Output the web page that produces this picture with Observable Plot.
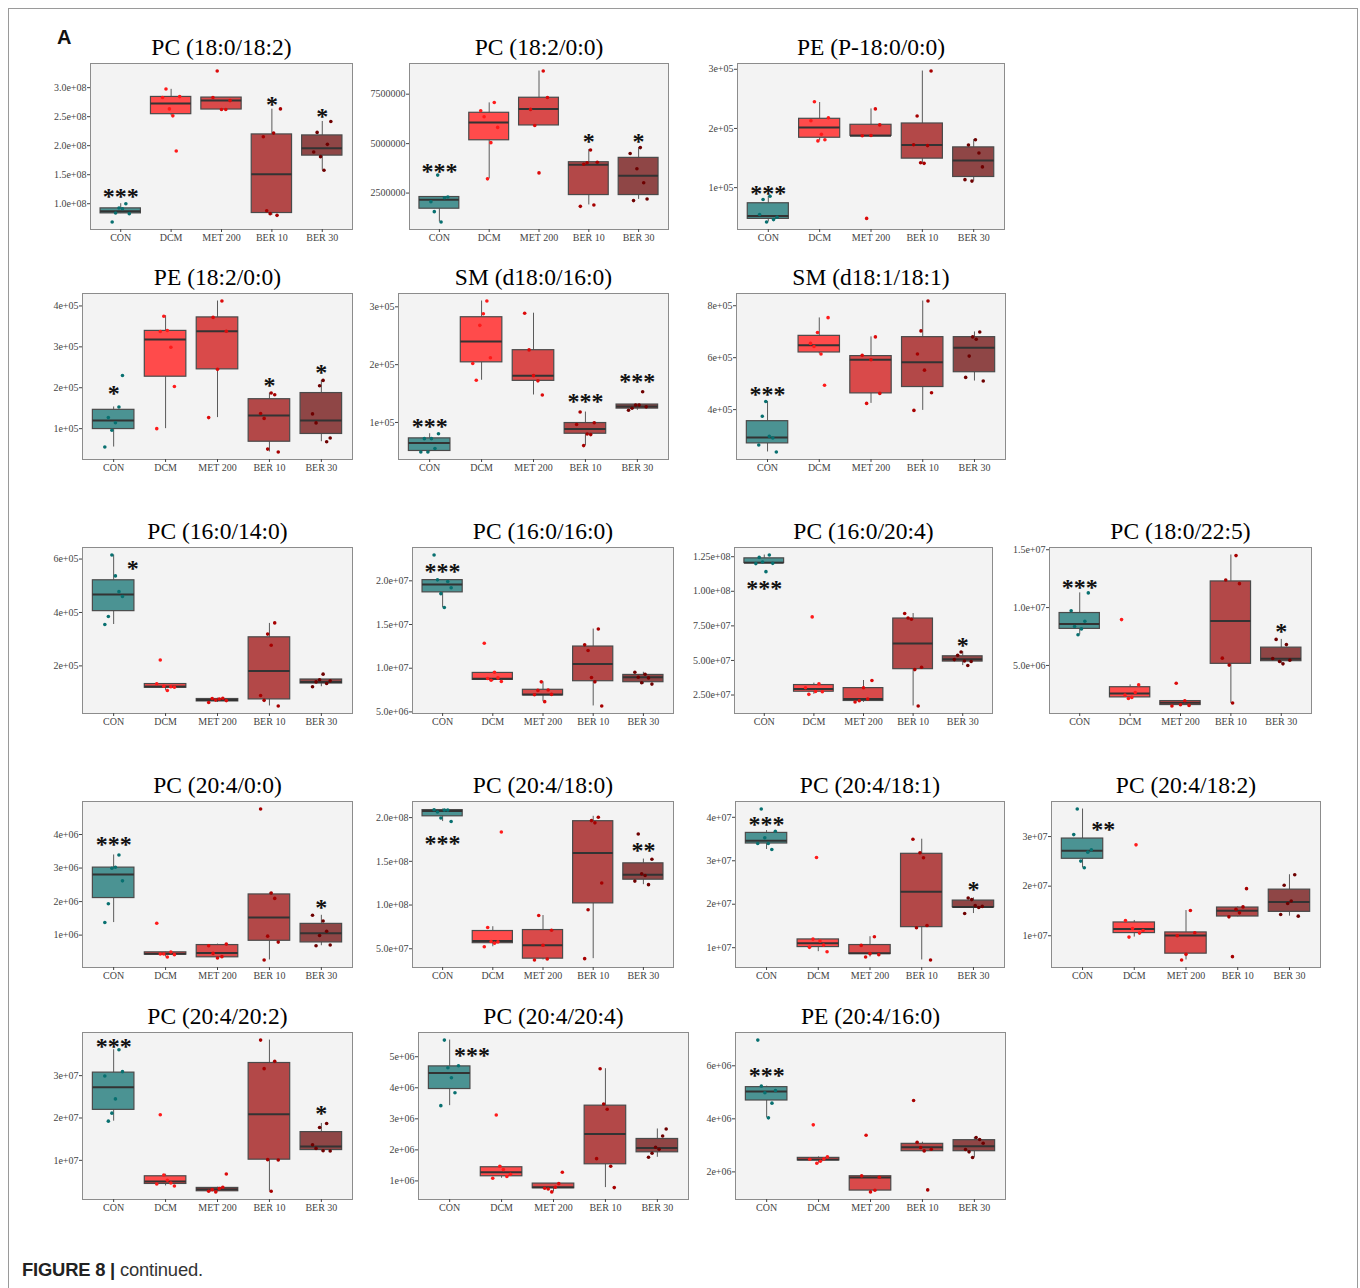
<!DOCTYPE html>
<html><head><meta charset="utf-8">
<script src="https://cdn.jsdelivr.net/npm/d3@7"></script>
<script src="https://cdn.jsdelivr.net/npm/@observablehq/plot@0.6"></script>
<style>
html,body{margin:0;padding:0;background:#fff;}
#fig{position:relative;width:1360px;height:1288px;overflow:hidden;background:#fff;}
#border{position:absolute;left:8px;top:8px;width:1348px;height:1300px;border:1px solid #9a9a9a;border-bottom:none;}
#lab{position:absolute;left:57px;top:27px;font:bold 20px "Liberation Sans",Arial,sans-serif;line-height:1;color:#111;}
#cap{position:absolute;left:22px;top:1261px;font:18.4px "Liberation Sans",Arial,sans-serif;line-height:1;color:#333;letter-spacing:-0.2px;}
#cap b{color:#222;}
</style></head>
<body><div id="fig"><div id="border"></div><div id="lab">A</div><div id="cap"><b>FIGURE 8 |</b> continued.</div></div>
<script>
const groups = ["CON","DCM","MET 200","BER 10","BER 30"];
const titles = ["PC (18:0/18:2)","PC (18:2/0:0)","PE (P-18:0/0:0)","PE (18:2/0:0)","SM (d18:0/16:0)","SM (d18:1/18:1)",
  "PC (16:0/14:0)","PC (16:0/16:0)","PC (16:0/20:4)","PC (18:0/22:5)","PC (20:4/0:0)","PC (20:4/18:0)","PC (20:4/18:1)",
  "PC (20:4/18:2)","PC (20:4/20:2)","PC (20:4/20:4)","PE (20:4/16:0)"];

// box stats per group: [lower whisker, q1, median, q3, upper whisker] (in tick-label units)
// P1 PC (18:0/18:2) x1e8
const boxP1 = [[0.83,0.834,0.869,0.92,1.0],[2.514,2.543,2.726,2.84,2.971],[2.623,2.623,2.777,2.829,2.83],[0.8,0.84,1.509,2.194,2.629],[1.577,1.829,1.954,2.177,2.417]];
const ptsP1 = [[0.686,0.84,0.926,0.914,1.0,0.829],[2.829,2.977,2.634,2.514,1.909,2.846],[2.829,3.286,2.623,2.623,2.777],[2.154,0.88,0.829,2.217,0.8,2.634],[1.891,2.229,1.811,1.577,2.023,2.417]];
const tickP1 = [1.0,1.5,2.0,2.5,3.0], tickLabP1 = ["1.0e+08","1.5e+08","2.0e+08","2.5e+08","3.0e+08"];
const sigP1 = [["CON","***",1.19,0],["BER 10","*",2.78,0],["BER 30","*",2.57,0]];
// P2 PC (18:2/0:0) x1e6
const boxP2 = [[1.04,1.71,2.165,2.30,2.30],[3.22,5.17,6.07,6.56,7.06],[5.92,5.92,6.75,7.32,8.67],[1.90,2.40,3.93,4.06,4.70],[2.18,2.40,3.37,4.28,4.80]];
const ptsP2 = [[2.06,1.56,3.41,1.04,2.26,2.30],[6.66,6.36,3.22,5.05,7.08,5.82],[6.73,5.92,3.52,8.67,7.33],[1.83,3.96,4.03,4.68,1.90,4.06],[4.50,2.12,3.73,4.80,3.02,2.20]];
const tickP2 = [2.5,5.0,7.5], tickLabP2 = ["2500000","5000000","7500000"];
const sigP2 = [["CON","***",3.79,0],["BER 10","*",5.32,0],["BER 30","*",5.32,0]];
// P3 PE (P-18:0/0:0) x1e5
const boxP3 = [[0.42,0.472,0.522,0.736,0.854],[1.79,1.843,2.017,2.163,2.438],[1.876,1.876,1.876,2.062,2.33],[1.41,1.49,1.72,2.084,2.97],[1.11,1.18,1.46,1.68,1.81]];
const ptsP3 = [[0.545,0.80,0.42,0.854,0.46,0.50],[2.13,2.45,1.79,1.90,1.81,2.18],[1.876,0.48,1.88,2.33,2.06],[1.725,2.21,1.42,1.41,1.71,2.97],[1.135,1.72,1.11,1.81,1.585,1.35]];
const tickP3 = [1,2,3], tickLabP3 = ["1e+05","2e+05","3e+05"];
const sigP3 = [["CON","***",0.98,0]];
// P4 PE (18:2/0:0) x1e5
const boxP4 = [[0.55,0.99,1.20,1.46,1.53],[1.0,2.27,3.18,3.39,3.76],[1.27,2.45,3.38,3.72,4.12],[0.43,0.68,1.32,1.72,1.87],[0.68,0.87,1.20,1.87,2.18]];
const ptsP4 = [[0.55,1.27,0.96,1.145,1.53,2.30],[1.0,3.375,3.75,3.40,2.99,2.03],[1.27,3.72,2.45,4.12,3.38],[1.37,1.25,0.50,1.87,1.83,0.43],[1.36,1.14,2.05,2.18,0.68,0.77]];
const tickP4 = [1,2,3,4], tickLabP4 = ["1e+05","2e+05","3e+05","4e+05"];
const sigP4 = [["CON","*",1.95,0],["BER 10","*",2.15,0],["BER 30","*",2.48,0]];
// P5 SM (d18:0/16:0) x1e5
const boxP5 = [[0.49,0.507,0.645,0.725,0.805],[1.73,2.04,2.40,2.82,3.10],[1.475,1.72,1.81,2.25,2.89],[0.60,0.805,0.885,0.99,1.18],[1.21,1.24,1.275,1.31,1.31]];
const ptsP5 = [[0.49,0.72,0.49,0.72,0.55,0.805],[2.02,1.73,2.68,2.88,3.10,2.12],[2.89,2.255,1.81,1.72,1.475],[0.965,1.18,0.60,0.80,0.79,0.995],[1.21,1.245,1.30,1.30,1.53,1.27]];
const tickP5 = [1,2,3], tickLabP5 = ["1e+05","2e+05","3e+05"];
const sigP5 = [["CON","***",1.0,0],["BER 10","***",1.43,0],["BER 30","***",1.78,0]];
// P6 SM (d18:1/18:1) x1e5
const boxP6 = [[2.37,2.70,2.93,3.555,4.31],[6.14,6.20,6.48,6.84,7.53],[4.24,4.625,5.92,6.06,6.80],[3.97,4.87,5.82,6.79,8.18],[5.10,5.44,6.38,6.79,6.99]];
const ptsP6 = [[2.64,3.745,4.31,2.97,2.905,2.37],[6.55,6.43,6.97,6.14,4.94,7.54],[6.09,4.24,5.92,6.80,4.625],[3.97,6.14,7.03,5.52,8.18,4.65],[5.24,6.06,6.80,6.71,6.99,5.10]];
const tickP6 = [4,6,8], tickLabP6 = ["4e+05","6e+05","8e+05"];
const sigP6 = [["CON","***",4.75,0]];
// P7 PC (16:0/14:0) x1e5
const boxP7 = [[3.55,4.05,4.67,5.205,6.15],[1.08,1.18,1.23,1.32,1.33],[0.63,0.67,0.72,0.76,0.79],[0.50,0.745,1.81,3.07,3.59],[1.22,1.34,1.40,1.49,1.49]];
const ptsP7 = [[3.55,3.85,6.15,5.37,4.78,4.60],[1.33,2.22,1.24,1.08,1.22,1.20],[0.63,0.78,0.72,0.76,0.79,0.70],[0.89,0.71,3.19,2.77,3.61,0.50],[1.22,1.40,1.48,1.69,1.34,1.44]];
const tickP7 = [2,4,6], tickLabP7 = ["2e+05","4e+05","6e+05"];
const sigP7 = [["CON","*",5.81,0.37]];
// P8 PC (16:0/16:0) x1e7
const boxP8 = [[1.694,1.868,1.958,2.008,2.011],[0.848,0.867,0.878,0.946,0.953],[0.617,0.689,0.70,0.753,0.844],[0.568,0.851,1.048,1.248,1.448],[0.818,0.84,0.897,0.923,0.953]];
const ptsP8 = [[2.295,2.011,1.853,1.694,1.992,1.92],[1.286,0.882,0.863,0.953,0.889,0.848],[0.697,0.746,0.844,0.617,0.75,0.70],[1.267,1.203,0.893,0.844,1.448,0.568],[0.953,0.897,0.833,0.931,0.889,0.818]];
const tickP8 = [0.5,1.0,1.5,2.0], tickLabP8 = ["5.0e+06","1.0e+07","1.5e+07","2.0e+07"];
const sigP8 = [["CON","***",2.155,0]];
// P9 PC (16:0/20:4) x1e8
const boxP9 = [[1.202,1.2045,1.207,1.238,1.262],[0.255,0.274,0.293,0.322,0.336],[0.197,0.207,0.221,0.30,0.355],[0.171,0.437,0.623,0.803,0.839],[0.463,0.492,0.508,0.53,0.563]];
const ptsP9 = [[1.20,1.245,1.212,1.142,1.262,1.202],[0.303,0.255,0.815,0.276,0.331,0.274],[0.20,0.209,0.303,0.221,0.355],[0.839,0.807,0.798,0.434,0.171,0.451],[0.506,0.537,0.561,0.496,0.463,0.492]];
const tickP9 = [0.25,0.5,0.75,1.0,1.25], tickLabP9 = ["2.50e+07","5.00e+07","7.50e+07","1.00e+08","1.25e+08"];
const sigP9 = [["CON","***",1.05,0],["BER 30","*",0.64,0]];
// P10 PC (18:0/22:5) x1e7
const boxP10 = [[0.765,0.816,0.859,0.953,1.127],[0.215,0.224,0.258,0.312,0.332],[0.15,0.158,0.178,0.192,0.195],[0.172,0.514,0.885,1.226,1.454],[0.514,0.537,0.557,0.654,0.725]];
const ptsP10 = [[0.973,0.836,0.765,0.816,0.882,1.127],[0.896,0.244,0.215,0.224,0.266,0.332],[0.15,0.346,0.161,0.195,0.155],[0.563,1.238,0.503,0.175,1.449,1.207],[0.560,0.725,0.534,0.514,0.68,0.546]];
const tickP10 = [0.5,1.0,1.5], tickLabP10 = ["5.0e+06","1.0e+07","1.5e+07"];
const sigP10 = [["CON","***",1.21,0],["BER 30","*",0.83,0]];
// P11 PC (20:4/0:0) x1e6
const boxP11 = [[1.374,2.105,2.806,3.013,3.39],[0.347,0.417,0.446,0.486,0.495],[0.318,0.338,0.466,0.703,0.732],[0.259,0.831,1.522,2.213,2.253],[0.683,0.782,1.058,1.335,1.591]];
const ptsP11 = [[1.374,1.937,2.993,3.023,3.39,2.618],[1.355,0.436,0.436,0.347,0.495,0.417],[0.683,0.456,0.318,0.357,0.732],[4.76,0.259,0.969,2.253,2.095,0.792],[1.591,0.683,0.989,1.423,1.117,0.703]];
const tickP11 = [1,2,3,4], tickLabP11 = ["1e+06","2e+06","3e+06","4e+06"];
const sigP11 = [["CON","***",3.82,0],["BER 30","*",1.947,0]];
// P12 PC (20:4/18:0) x1e8
const boxP12 = [[1.955,2.015,2.075,2.086,2.098],[0.523,0.564,0.59,0.703,0.752],[0.372,0.387,0.541,0.714,0.88],[0.387,1.019,1.594,1.959,2.015],[1.233,1.29,1.346,1.477,1.526]];
const ptsP12 = [[2.09,2.064,1.996,2.086,2.086,1.955],[0.523,0.744,0.583,0.564,0.579,1.835],[0.372,0.88,0.541,0.383,0.711],[0.387,0.947,1.966,1.94,2.004,1.252],[1.274,1.812,1.357,1.338,1.233,1.523]];
const tickP12 = [0.5,1.0,1.5,2.0], tickLabP12 = ["5.0e+07","1.0e+08","1.5e+08","2.0e+08"];
const sigP12 = [["CON","***",1.75,0],["BER 30","**",1.677,0]];
// P13 PC (20:4/18:1) x1e7
const boxP13 = [[3.26,3.397,3.458,3.641,3.695],[0.908,1.015,1.10,1.19,1.198],[0.786,0.855,0.87,1.061,1.252],[0.718,1.473,2.29,3.16,3.496],[1.786,1.931,1.939,2.084,2.145]];
const ptsP13 = [[3.397,4.19,3.527,3.397,3.26,3.68],[1.008,1.198,3.076,1.153,1.06,0.908],[1.053,0.786,0.863,1.252,0.84],[3.496,1.458,3.183,3.069,1.511,0.718],[1.786,2.145,2.107,1.969,1.924,1.95]];
const tickP13 = [1,2,3,4], tickLabP13 = ["1e+07","2e+07","3e+07","4e+07"];
const sigP13 = [["CON","***",3.92,0],["BER 30","*",2.435,0]];
// P14 PC (20:4/18:2) x1e7
const boxP14 = [[2.371,2.552,2.712,2.96,3.555],[0.973,1.054,1.134,1.268,1.308],[0.512,0.639,1.007,1.067,1.508],[1.381,1.388,1.502,1.569,1.582],[1.395,1.482,1.682,1.93,2.23]];
const ptsP14 = [[3.04,3.555,2.505,2.371,2.686,2.732],[1.308,0.973,1.147,2.833,1.054,1.107],[1.0,0.512,0.625,1.508,1.06],[1.381,0.579,1.535,1.462,1.582,1.95],[1.428,2.017,1.649,1.702,2.23,1.395]];
const tickP14 = [1,2,3], tickLabP14 = ["1e+07","2e+07","3e+07"];
const sigP14 = [["CON","**",3.22,0.4]];
// P15 PC (20:4/20:2) x1e7
const boxP15 = [[1.925,2.192,2.725,3.071,3.612],[0.396,0.443,0.498,0.624,0.671],[0.255,0.271,0.318,0.349,0.365],[0.271,1.016,2.09,3.298,3.839],[1.22,1.243,1.329,1.667,1.871]];
const ptsP15 = [[2.992,1.925,2.114,2.451,3.612,3.094],[0.443,2.075,0.655,0.529,0.467,0.396],[0.271,0.31,0.255,0.333,0.365,0.678],[3.839,3.165,1.016,0.271,3.337,1.008],[1.369,1.282,1.776,1.227,1.871,1.22]];
const tickP15 = [1,2,3], tickLabP15 = ["1e+07","2e+07","3e+07"];
const sigP15 = [["CON","***",3.78,0],["BER 30","*",2.216,0]];
// P16 PC (20:4/20:4) x1e6
const boxP16 = [[3.424,3.96,4.475,4.689,5.536],[1.086,1.15,1.279,1.44,1.472],[0.646,0.764,0.796,0.914,0.914],[0.785,1.536,2.512,3.424,4.614],[1.761,1.922,2.062,2.351,2.673]];
const ptsP16 = [[3.424,5.536,4.646,4.324,3.842,4.71],[1.086,3.123,1.472,1.365,1.14,1.215],[0.764,0.74,0.646,0.796,0.914,1.279],[1.718,4.614,3.477,3.306,1.472,0.785],[1.761,1.89,2.083,2.02,2.448,2.673]];
const tickP16 = [1,2,3,4,5], tickLabP16 = ["1e+06","2e+06","3e+06","4e+06","5e+06"];
const sigP16 = [["CON","***",5.19,0.43]];
// P17 PE (20:4/16:0) x1e6
const boxP17 = [[4.038,4.692,5.03,5.195,5.233],[2.327,2.43,2.465,2.528,2.566],[1.245,1.296,1.786,1.836,1.849],[2.78,2.78,2.931,3.057,3.119],[2.541,2.78,2.969,3.195,3.296]];
const ptsP17 = [[6.969,5.233,4.981,4.038,4.591,5.069],[2.478,3.774,2.327,2.402,2.49,2.566],[1.849,3.384,1.245,1.308,1.799],[4.692,3.119,2.918,2.792,1.321,2.855],[2.843,2.755,2.541,3.296,3.22,3.082]];
const tickP17 = [2,4,6], tickLabP17 = ["2e+06","4e+06","6e+06"];
const sigP17 = [["CON","***",5.79,0]];

const boxes = [boxP1,boxP2,boxP3,boxP4,boxP5,boxP6,boxP7,boxP8,boxP9,boxP10,boxP11,boxP12,boxP13,boxP14,boxP15,boxP16,boxP17];
const pts = [ptsP1,ptsP2,ptsP3,ptsP4,ptsP5,ptsP6,ptsP7,ptsP8,ptsP9,ptsP10,ptsP11,ptsP12,ptsP13,ptsP14,ptsP15,ptsP16,ptsP17];
const ticks = [tickP1,tickP2,tickP3,tickP4,tickP5,tickP6,tickP7,tickP8,tickP9,tickP10,tickP11,tickP12,tickP13,tickP14,tickP15,tickP16,tickP17];
const tickLabs = [tickLabP1,tickLabP2,tickLabP3,tickLabP4,tickLabP5,tickLabP6,tickLabP7,tickLabP8,tickLabP9,tickLabP10,tickLabP11,tickLabP12,tickLabP13,tickLabP14,tickLabP15,tickLabP16,tickLabP17];
const sigs = [sigP1,sigP2,sigP3,sigP4,sigP5,sigP6,sigP7,sigP8,sigP9,sigP10,sigP11,sigP12,sigP13,sigP14,sigP15,sigP16,sigP17];

// layout: frame [left, right, top, bottom] in page pixels
const frames = [[90,352,63,229],[409,668,63,229],[737,1004,63,229],
  [82,352,293,459],[398,668,293,459],[736,1005,293,459],
  [82,352,547,713],[412,673,547,713],[734,992,547,713],[1049,1311,547,713],
  [82,352,801,967],[412,673,801,967],[735,1004,801,967],[1051,1320,801,967],
  [82,352,1032,1199],[418,688,1032,1199],[735,1005,1032,1199]];

const boxFill = ["#4b9393","#ff4b4b","#d94a4a","#b34848","#8f4646"];
const dotFill = ["#087070","#ff1a1a","#dd0a0a","#a60000","#6e0000"];

const fig = document.getElementById("fig");
frames.forEach(([L,R,T,B], i) => {
  const mL = 62, mR = 6, mT = 40, mB = 24;
  const rows = boxes[i].map((b, g) => ({g: g + 1, lo: b[0], q1: b[1], med: b[2], q3: b[3], hi: b[4]}));
  const dots = pts[i].flatMap((arr, g) => arr.map((v, k) => ({g: g + 1, v, j: arr.length > 1 ? -0.17 + 0.34 * k / (arr.length - 1) : 0})));
  const all = pts[i].flat().concat(boxes[i].flat());
  const lo = d3.min(all), hi = d3.max(all), pad = (hi - lo) * 0.05;
  const labMap = new Map(ticks[i].map((t, k) => [t, tickLabs[i][k]]));
  const sg = sigs[i].map(s => ({g: groups.indexOf(s[0]) + 1 + s[3], label: s[1], y: s[2]}));
  const svg = Plot.plot({
    width: R - L + mL + mR, height: B - T + mT + mB,
    marginLeft: mL, marginRight: mR, marginTop: mT, marginBottom: mB,
    x: {domain: [0.4, 5.6], axis: null},
    y: {domain: [lo - pad, hi + pad], axis: null},
    style: {fontFamily: "'Liberation Serif','Times New Roman',serif", fontSize: "10px", color: "#444", background: "transparent", overflow: "visible"},
    marks: [
      Plot.frame({fill: "#f3f3f3", stroke: "#8c8c8c", strokeWidth: 1}),
      Plot.axisY({ticks: ticks[i], tickFormat: d => labMap.get(d), tickSize: 3, tickPadding: 1, label: null, fontSize: 10}),
      Plot.axisX({ticks: [1,2,3,4,5], tickFormat: d => groups[d - 1], tickSize: 3, tickPadding: 1, label: null, fontSize: 10}),
      Plot.ruleX(rows, {x: "g", y1: "lo", y2: "q1", stroke: "#5a5a5a", strokeWidth: 1}),
      Plot.ruleX(rows, {x: "g", y1: "q3", y2: "hi", stroke: "#5a5a5a", strokeWidth: 1}),
      Plot.rect(rows, {x1: d => d.g - 0.4, x2: d => d.g + 0.4, y1: "q1", y2: "q3", fill: d => boxFill[d.g - 1], stroke: "#4a4a4a", strokeWidth: 1.2}),
      Plot.ruleY(rows, {y: "med", x1: d => d.g - 0.4, x2: d => d.g + 0.4, stroke: "#333", strokeWidth: 2}),
      Plot.dot(dots, {x: d => d.g + d.j, y: "v", r: 1.8, fill: d => dotFill[d.g - 1], stroke: null}),
      Plot.text(sg, {x: "g", y: "y", text: "label", fontSize: 24, fontWeight: "bold", dy: 4, fill: "#111"}),
      Plot.text([titles[i]], {frameAnchor: "top", text: d => d, dy: -9, lineAnchor: "bottom", fontSize: 23.5, fill: "#000"})
    ],
    color: {type: "identity"}
  });
  svg.style.position = "absolute";
  svg.style.left = (L - mL) + "px";
  svg.style.top = (T - mT) + "px";
  svg.style.maxWidth = "none";
  fig.appendChild(svg);
});
</script>
</body></html>
